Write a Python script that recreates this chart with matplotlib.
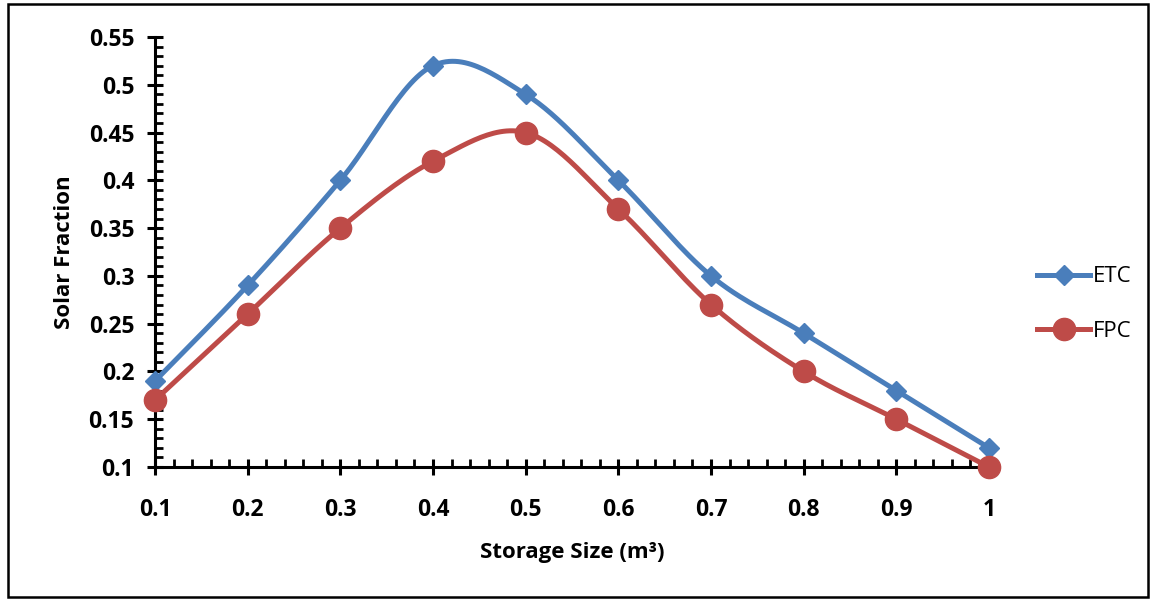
import numpy as np
import matplotlib.pyplot as plt
from matplotlib.patches import Rectangle
from matplotlib.ticker import MultipleLocator
from matplotlib.lines import Line2D

storage_size = [0.1, 0.2, 0.3, 0.4, 0.5, 0.6, 0.7, 0.8, 0.9, 1.0]
etc = [0.19, 0.29, 0.40, 0.52, 0.49, 0.40, 0.30, 0.24, 0.18, 0.12]
fpc = [0.17, 0.26, 0.35, 0.42, 0.45, 0.37, 0.27, 0.20, 0.15, 0.10]
x_labels = ["0.1", "0.2", "0.3", "0.4", "0.5", "0.6", "0.7", "0.8", "0.9", "1"]
y_labels = ["0.1", "0.15", "0.2", "0.25", "0.3", "0.35", "0.4", "0.45", "0.5", "0.55"]

BLUE = "#4A7EBB"
RED = "#BE4B48"
FONT = "Open Sans"


def smooth(x, y, n=30):
    """Catmull-Rom style curve through every point (spreadsheet 'smoothed line')."""
    x = np.asarray(x, float)
    y = np.asarray(y, float)
    px = np.concatenate([[x[0]], x, [x[-1]]])
    py = np.concatenate([[y[0]], y, [y[-1]]])
    xs, ys = [], []
    for i in range(1, len(px) - 2):
        p0 = np.array([px[i], py[i]])
        p3 = np.array([px[i + 1], py[i + 1]])
        c1 = p0 + (np.array([px[i + 1], py[i + 1]]) - np.array([px[i - 1], py[i - 1]])) / 6
        c2 = p3 - (np.array([px[i + 2], py[i + 2]]) - np.array([px[i], py[i]])) / 6
        t = np.linspace(0, 1, n)[:, None]
        pts = ((1 - t) ** 3) * p0 + 3 * ((1 - t) ** 2) * t * c1 + 3 * (1 - t) * t ** 2 * c2 + t ** 3 * p3
        xs.append(pts[:, 0])
        ys.append(pts[:, 1])
    return np.concatenate(xs), np.concatenate(ys)


fig = plt.figure(figsize=(11.55, 6.01), dpi=100)
ax = fig.add_axes([155 / 1155, 1 - 467 / 601, (989 - 155) / 1155, (467 - 37) / 601])

ex, ey = smooth(storage_size, etc)
fx, fy = smooth(storage_size, fpc)
ax.plot(ex, ey, color=BLUE, lw=3.6, solid_capstyle="round", zorder=3, clip_on=False)
ax.plot(storage_size, etc, ls="none", marker="D", ms=10, color=BLUE, zorder=4, clip_on=False)
ax.plot(fx, fy, color=RED, lw=3.6, solid_capstyle="round", zorder=3, clip_on=False)
ax.plot(storage_size, fpc, ls="none", marker="o", ms=16, color=RED, zorder=4, clip_on=False)

ax.set_xlim(0.1, 1.0)
ax.set_ylim(0.1, 0.55)
ax.set_xticks(storage_size)
ax.set_xticklabels(x_labels)
ax.set_yticks([float(v) for v in y_labels])
ax.set_yticklabels(y_labels)
ax.xaxis.set_minor_locator(MultipleLocator(0.02))
ax.yaxis.set_minor_locator(MultipleLocator(0.01))

for side in ["top", "right"]:
    ax.spines[side].set_visible(False)
for side in ["left", "bottom"]:
    ax.spines[side].set_linewidth(2.2)

ax.tick_params(which="major", direction="inout", length=12, width=2.2, labelsize=16.5)
ax.tick_params(which="minor", direction="in", length=6, width=2)
ax.tick_params(axis="x", which="major", pad=16)
ax.tick_params(axis="y", which="major", pad=9)
for lbl in ax.get_xticklabels() + ax.get_yticklabels():
    lbl.set_fontfamily(FONT)
    lbl.set_fontweight("bold")

ax.set_xlabel("Storage Size (m³)", fontsize=16, fontweight="bold", fontfamily=FONT, labelpad=15)
ax.set_ylabel("Solar Fraction", fontsize=16, fontweight="bold", fontfamily=FONT, labelpad=10)

handles = [
    Line2D([], [], color=BLUE, lw=3.6, marker="D", ms=10),
    Line2D([], [], color=RED, lw=3.6, marker="o", ms=16),
]
fig.legend(handles, ["ETC", "FPC"], loc="center left", bbox_to_anchor=(1017 / 1155, 1 - 304 / 601),
           frameon=False, prop={"family": FONT, "size": 16}, handlelength=2.4,
           handletextpad=0.1, labelspacing=1.5)

fig.patches.append(Rectangle((8 / 1155, 4 / 601), 1140 / 1155, 593 / 601, transform=fig.transFigure,
                             fill=False, edgecolor="black", lw=1.8))

fig.savefig("out.png", dpi=100)
